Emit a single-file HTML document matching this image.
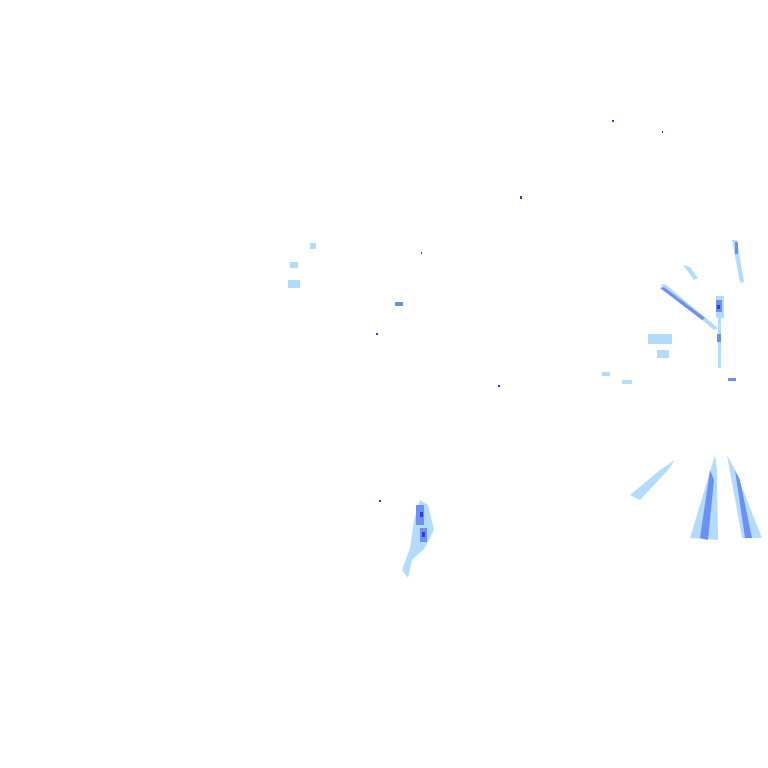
<!DOCTYPE html>
<html><head><meta charset="utf-8"><style>html,body{margin:0;padding:0;background:#fff;width:768px;height:768px;overflow:hidden}</style></head>
<body>
<svg width="768" height="768" viewBox="0 0 768 768" xmlns="http://www.w3.org/2000/svg">
<g fill="#b3dcfc">
<polygon points="715,455 690,538 718,540 717,470"/>
<polygon points="727,455 742,538 762,538 735,470"/>
<rect x="648" y="334" width="24" height="10"/>
<rect x="657" y="350" width="12" height="8"/>
<polygon points="660,285 665,284 718,328 714,330"/>
<polygon points="732,240 737,240 744,282 740,283"/>
<polygon points="683,265 690,267 698,278 694,280"/>
<rect x="716" y="296" width="8" height="22"/>
<rect x="718" y="318" width="3" height="50"/>
<polygon points="420,500 428,505 434,530 425,548 412,560 408,578 402,570 410,548 414,520"/>
<rect x="288" y="280" width="12" height="8"/>
<rect x="290" y="262" width="8" height="6"/>
<rect x="310" y="243" width="6" height="6"/>
<polygon points="630,495 660,470 675,460 668,470 640,500"/>
<rect x="602" y="372" width="8" height="4"/>
<rect x="622" y="380" width="10" height="4"/>
</g>
<g fill="#6c8ff5">
<polygon points="710,470 700,538 708,540 714,480"/>
<polygon points="735,470 745,538 752,538 740,480"/>
<polygon points="660,288 664,287 705,318 702,320"/>
<rect x="716" y="300" width="6" height="12"/>
<rect x="717" y="334" width="4" height="8"/>
<rect x="416" y="505" width="8" height="20"/>
<rect x="420" y="528" width="7" height="14"/>
<rect x="395" y="302" width="8" height="4"/>
<rect x="728" y="378" width="8" height="3"/>
<rect x="735" y="242" width="3" height="12"/>
</g>
<g fill="#2b3be0">
<rect x="717" y="305" width="3" height="4"/>
<rect x="420" y="512" width="3" height="5"/>
<rect x="422" y="532" width="3" height="5"/>
<rect x="520" y="196" width="2" height="3"/>
<rect x="376" y="333" width="2" height="2"/>
<rect x="498" y="385" width="2" height="2"/>
<rect x="379" y="500" width="2" height="2"/>
<rect x="421" y="252" width="1" height="2"/>
<rect x="662" y="131" width="1" height="2"/>
<rect x="612" y="120" width="2" height="2"/>
</g>
</svg>
</body></html>
